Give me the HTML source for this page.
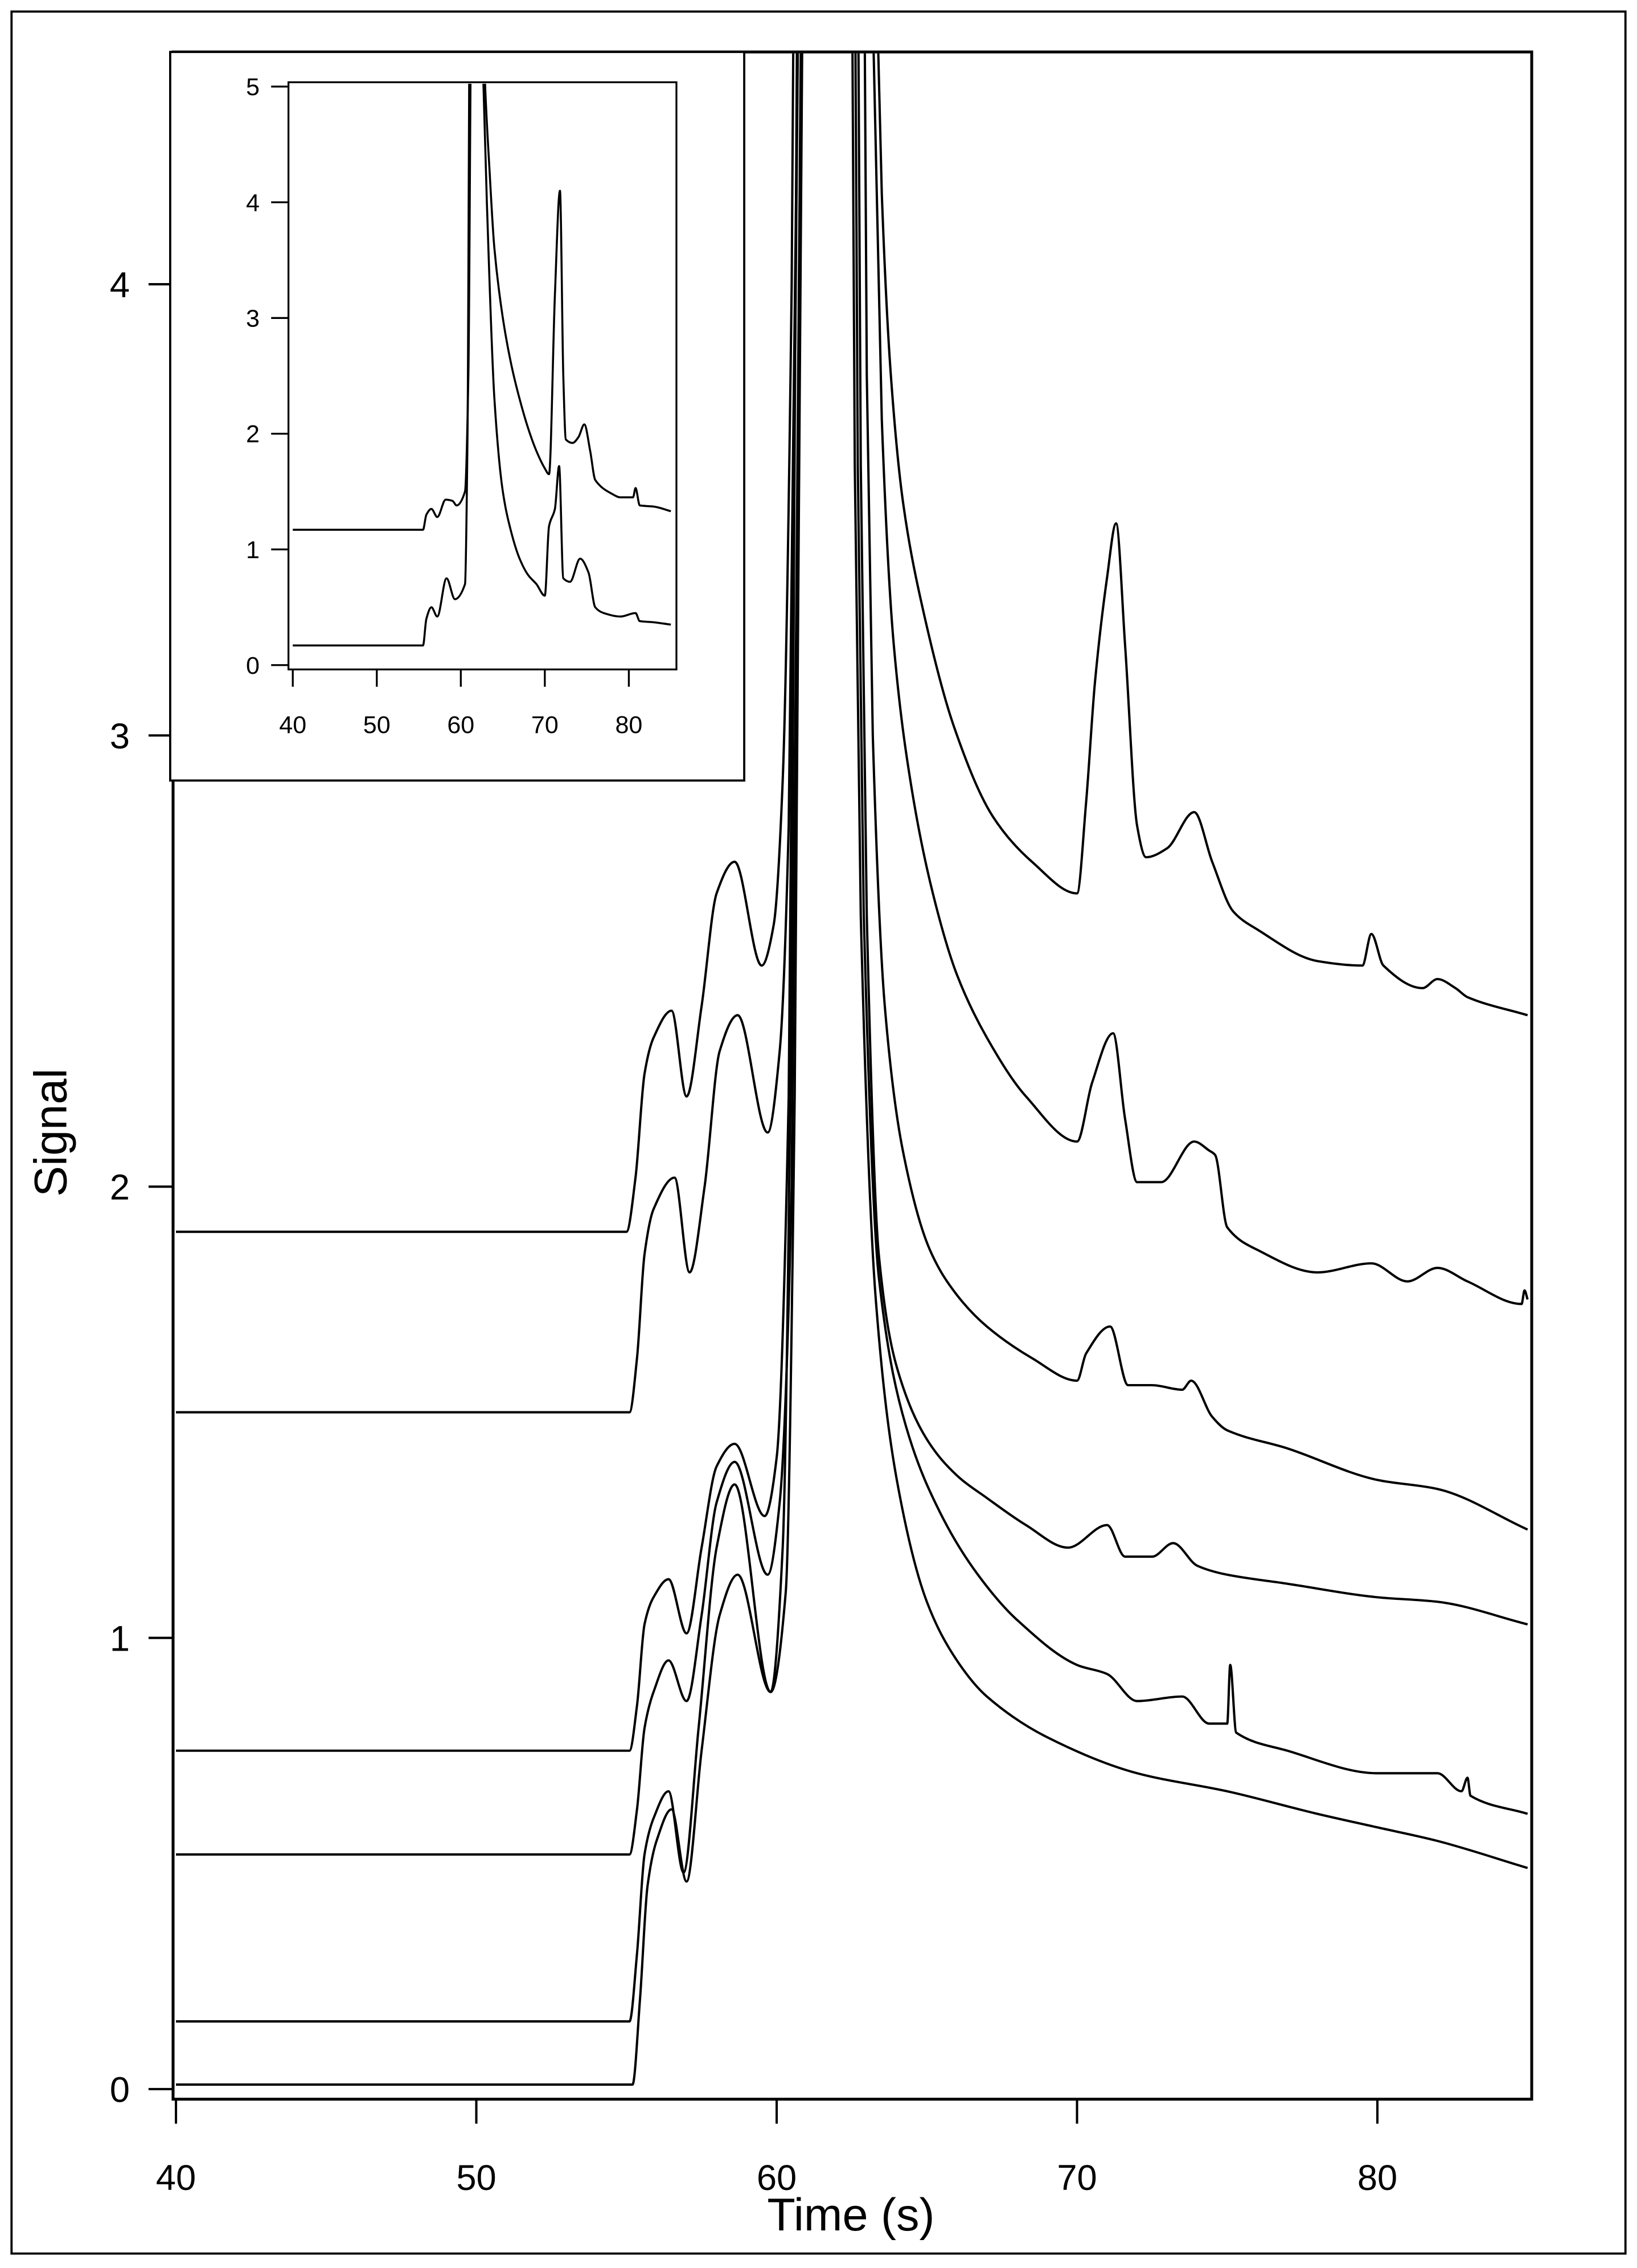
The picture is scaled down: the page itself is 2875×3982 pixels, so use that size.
<!DOCTYPE html>
<html><head><meta charset="utf-8"><style>
html,body{margin:0;padding:0;background:#fff}
svg{display:block}
text{font-family:"Liberation Sans",Arial,sans-serif;fill:#000}
</style></head><body>
<svg id="chart" width="2875" height="3982" viewBox="0 0 1135 1572" xmlns="http://www.w3.org/2000/svg">
<rect x="8" y="8" width="1119" height="1554" fill="#fff" stroke="#000" stroke-width="1.5"/>
<defs>
<clipPath id="mainClip"><rect x="121" y="37" width="940" height="1417"/></clipPath>
<clipPath id="insetClip"><rect x="201" y="58" width="267" height="405"/></clipPath>
</defs>
<g id="main"></g>
<g id="inset"></g>
</svg>
<script>
// ---------- main chart data ----------
const mainXTicks = [40, 50, 60, 70, 80];
const mainYTicks = [0, 1, 2, 3, 4];
const tA = [40,55.0,55.3,55.6,55.9,56.5,57.0,57.5,58.0,58.6,59.5,59.9,60.2,60.5,60.8,61.1,62.7,63.0,63.2,63.5,63.8,64.2,64.8,65.9,67.2,68.5,70.0,70.3,70.6,71.0,71.3,71.6,72.0,72.3,73.0,73.9,74.5,75.2,76,78,79.5,79.8,80.2,81.5,82,82.6,83,85];
const vA = [1.9,1.9,2.02,2.25,2.33,2.39,2.20,2.4,2.65,2.72,2.49,2.58,2.9,4,7,12,12,6,5.0,4.2,3.8,3.52,3.3,3.02,2.82,2.72,2.65,2.85,3.12,3.35,3.47,3.2,2.8,2.73,2.75,2.83,2.72,2.61,2.57,2.50,2.49,2.56,2.49,2.44,2.46,2.44,2.42,2.38];
const tB = [40,55.1,55.35,55.6,55.9,56.6,57.1,57.6,58.1,58.7,59.7,60.1,60.4,60.7,61.0,61.2,62.8,63.0,63.2,63.5,63.9,64.5,65.2,66.0,67.0,68.3,70.0,70.5,71.2,71.6,72.0,72.8,73.9,74.4,74.6,75.0,76,78,79.8,81,82,83,84.8,84.9,85];
const vB = [1.5,1.5,1.62,1.85,1.95,2.02,1.81,2.0,2.3,2.38,2.12,2.3,2.8,4.5,8,12,12,6,4.6,3.7,3.2,2.88,2.65,2.47,2.33,2.2,2.1,2.23,2.34,2.15,2.01,2.01,2.10,2.08,2.07,1.91,1.86,1.81,1.83,1.79,1.82,1.79,1.74,1.77,1.75];
const tC = [40,55.1,55.35,55.6,55.9,56.4,57.0,57.5,58.0,58.6,59.6,60.0,60.4,60.7,61.0,62.6,62.8,63.0,63.2,63.6,64.2,65.1,66.0,67.0,68.5,70.0,70.3,71.1,71.7,72.5,73.5,73.8,74.5,75,77,80,82,85];
const vC = [0.75,0.75,0.85,1.03,1.09,1.13,1.01,1.2,1.38,1.43,1.27,1.4,2.2,4.5,12,12,6,3.8,3.0,2.4,2.08,1.86,1.76,1.69,1.62,1.57,1.63,1.69,1.56,1.56,1.55,1.57,1.49,1.46,1.42,1.35,1.33,1.24];
const tD = [40,55.1,55.35,55.6,55.9,56.4,57.0,57.5,58.0,58.6,59.7,60.1,60.5,60.8,61.1,62.5,62.6,62.8,63.0,63.4,64.0,65.0,66.0,67.0,68.3,69.7,71,71.6,72.5,73.2,74,75,77,80,82,85];
const vD = [0.52,0.52,0.62,0.8,0.88,0.95,0.86,1.05,1.3,1.39,1.14,1.3,2.0,4.5,12,12,6,3.6,2.6,1.85,1.6,1.44,1.36,1.31,1.25,1.2,1.25,1.18,1.18,1.21,1.16,1.14,1.12,1.09,1.08,1.03];
const tE = [40,55.1,55.35,55.6,55.9,56.4,56.9,57.4,58.0,58.6,59.8,60.2,60.5,60.8,61.1,62.4,62.5,62.7,62.9,63.4,64.3,65.5,66.7,68,70,71,72,73.5,74.4,75.0,75.1,75.3,77,80,82,82.8,83,83.1,85];
const vE = [0.15,0.15,0.3,0.52,0.6,0.66,0.48,0.8,1.2,1.34,0.88,1.2,2.5,6,12,12,6,3.6,2.6,1.8,1.47,1.27,1.14,1.04,0.94,0.92,0.86,0.87,0.81,0.81,0.94,0.79,0.75,0.70,0.70,0.66,0.69,0.65,0.61];
const tF = [40,55.2,55.45,55.7,56.0,56.5,57.0,57.5,58.1,58.7,59.8,60.3,60.6,60.9,61.2,62.3,62.4,62.6,62.8,63.3,64.0,65.0,66.0,67.0,69,72,75,78,80,82,85];
const vF = [0.01,0.01,0.2,0.45,0.55,0.62,0.46,0.75,1.05,1.14,0.88,1.1,2.2,5,12,12,6,3.6,2.6,1.75,1.35,1.08,0.95,0.87,0.78,0.7,0.66,0.61,0.58,0.55,0.49];
// ---------- inset data ----------
const insetXTicks = [40, 50, 60, 70, 80];
const insetYTicks = [0, 1, 2, 3, 4, 5];
const tI1 = [40,55.5,55.9,56.5,57.2,58.2,59.0,59.5,60.5,60.9,61.3,62.5,62.9,63.4,64,65,66,67,68,69,70,70.5,71.2,71.8,72.2,72.5,73.3,74.0,74.7,75.4,76,78,79,80.5,80.8,81.3,83,85];
const vI1 = [1.17,1.17,1.3,1.35,1.28,1.43,1.42,1.38,1.5,2.5,6,6,5.0,4.3,3.6,3.0,2.6,2.3,2.05,1.85,1.7,1.65,3.2,4.1,2.5,1.95,1.92,1.97,2.08,1.85,1.6,1.48,1.45,1.45,1.53,1.38,1.37,1.33];
const tI2 = [40,55.5,55.9,56.5,57.2,58.3,59.3,60.5,60.8,61.1,61.4,62.4,62.7,63.1,64,65,66,67,68,69,70,70.5,71.2,71.7,72.2,73,74.2,75.2,76,77,79,80.8,81.3,83,85];
const vI2 = [0.17,0.17,0.4,0.5,0.42,0.75,0.57,0.7,2,6,6,6,5.0,4.0,2.3,1.5,1.15,0.92,0.78,0.7,0.6,1.2,1.35,1.72,0.75,0.72,0.92,0.8,0.5,0.45,0.42,0.45,0.38,0.37,0.35];

const NS = "http://www.w3.org/2000/svg";
function mk(tag, attrs, parent){const e=document.createElementNS(NS,tag);for(const k in attrs)e.setAttribute(k,attrs[k]);parent.appendChild(e);return e;}
// monotone cubic path through pixel points
function monoPath(xs, ys){
  const n = xs.length; if(n<2) return '';
  const d=[], m=new Array(n);
  for(let i=0;i<n-1;i++) d.push((ys[i+1]-ys[i])/((xs[i+1]-xs[i])||1e-6));
  m[0]=d[0]; m[n-1]=d[n-2];
  for(let i=1;i<n-1;i++){ m[i] = (d[i-1]*d[i]<=0) ? 0 : 2/(1/d[i-1]+1/d[i]); }
  let s = 'M'+xs[0].toFixed(2)+' '+ys[0].toFixed(2);
  for(let i=0;i<n-1;i++){
    const h = xs[i+1]-xs[i];
    s += ' C'+(xs[i]+h/3).toFixed(2)+' '+(ys[i]+m[i]*h/3).toFixed(2)+' '+(xs[i+1]-h/3).toFixed(2)+' '+(ys[i+1]-m[i+1]*h/3).toFixed(2)+' '+xs[i+1].toFixed(2)+' '+ys[i+1].toFixed(2);
  }
  return s;
}

// main axes
const mX = t => 122 + (t-40)*(955-122)/40;
const mY = v => 1448 - v*312.75;
const main = document.getElementById('main');
const mainSeries = [[tA,vA],[tB,vB],[tC,vC],[tD,vD],[tE,vE],[tF,vF]];
const names = ['trace-a','trace-b','trace-c','trace-d','trace-e','trace-f'];
const gM = mk('g',{'clip-path':'url(#mainClip)'},main);
mainSeries.forEach((s,i)=>{
  const d = monoPath(s[0].map(mX), s[1].map(mY));
  const p = mk('path',{d:d,fill:'none',stroke:'#000','stroke-width':1.6,'stroke-linejoin':'round'},gM);
  
  
});
const frame = mk('rect',{x:120,y:36,width:942,height:1419,fill:'none',stroke:'#000','stroke-width':2},main);


mainXTicks.forEach(t=>{
  const l = mk('line',{x1:mX(t),x2:mX(t),y1:1455,y2:1472,stroke:'#000','stroke-width':1.6},main);
  
  
  const tx = mk('text',{x:mX(t),y:1518,'text-anchor':'middle','font-size':25},main);
  tx.textContent = t;
  
  
});
mainYTicks.forEach(v=>{
  const l = mk('line',{x1:103,x2:120,y1:mY(v),y2:mY(v),stroke:'#000','stroke-width':1.6},main);
  
  
  const tx = mk('text',{x:90,y:mY(v)+9,'text-anchor':'end','font-size':25},main);
  tx.textContent = v;
  
  
});
const xt = mk('text',{x:590,y:1546,'text-anchor':'middle','font-size':32},main);
xt.textContent = 'Time (s)';


const yt = mk('text',{x:0,y:0,'text-anchor':'middle','font-size':32,transform:'translate(46,785) rotate(-90)'},main);
yt.textContent = 'Signal';



// inset
const iX = t => 203 + (t-40)*(436-203)/40;
const iY = v => 461 - v*80.2;
const inset = document.getElementById('inset');
const ib = mk('rect',{x:118,y:36,width:398,height:505,fill:'#fff',stroke:'#000','stroke-width':1.5},inset);


const gI = mk('g',{'clip-path':'url(#insetClip)'},inset);
[[tI1,vI1],[tI2,vI2]].forEach((s,i)=>{
  const d = monoPath(s[0].map(iX), s[1].map(iY));
  const p = mk('path',{d:d,fill:'none',stroke:'#000','stroke-width':1.4,'stroke-linejoin':'round'},gI);
  
  
});
const ifr = mk('rect',{x:200,y:57,width:269,height:407,fill:'none',stroke:'#000','stroke-width':1.3},inset);


insetXTicks.forEach(t=>{
  const l = mk('line',{x1:iX(t),x2:iX(t),y1:464,y2:476,stroke:'#000','stroke-width':1.3},inset);
  
  
  const tx = mk('text',{x:iX(t),y:508,'text-anchor':'middle','font-size':17},inset);
  tx.textContent = t;
  
  
});
insetYTicks.forEach(v=>{
  const l = mk('line',{x1:188,x2:200,y1:iY(v),y2:iY(v),stroke:'#000','stroke-width':1.3},inset);
  
  
  const tx = mk('text',{x:180,y:iY(v)+6,'text-anchor':'end','font-size':17},inset);
  tx.textContent = v;
  
  
});
</script>
</body></html>
